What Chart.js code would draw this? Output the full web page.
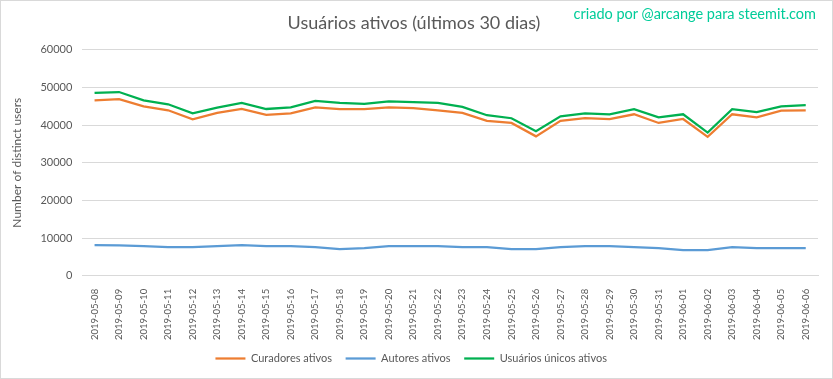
<!DOCTYPE html>
<html>
<head>
<meta charset="utf-8">
<script src="https://cdn.jsdelivr.net/npm/chart.js@4"></script>
<style>
  html, body { margin: 0; padding: 0; background: #fff; }
  #wrap { position: relative; width: 833px; height: 379px; }
  #frame { position: absolute; left: 0; top: 0; width: 831px; height: 377px; border: 1px solid #d9d9d9; }
  #credit { position: absolute; right: 17px; top: 5px; font: 14.5px Lato, sans-serif; color: #00cc99; }
</style>
</head>
<body>
<div id="wrap">
  <canvas id="usersChart" width="833" height="379"></canvas>
  <div id="frame"></div>
  <div id="credit">criado por @arcange para steemit.com</div>
</div>
<script>
const dates = [
  "2019-05-08", "2019-05-09", "2019-05-10", "2019-05-11", "2019-05-12", "2019-05-13",
  "2019-05-14", "2019-05-15", "2019-05-16", "2019-05-17", "2019-05-18", "2019-05-19",
  "2019-05-20", "2019-05-21", "2019-05-22", "2019-05-23", "2019-05-24", "2019-05-25",
  "2019-05-26", "2019-05-27", "2019-05-28", "2019-05-29", "2019-05-30", "2019-05-31",
  "2019-06-01", "2019-06-02", "2019-06-03", "2019-06-04", "2019-06-05", "2019-06-06"
];
const curadores = [
  46550, 46850, 44950, 43900, 41500, 43200, 44250, 42700, 43100, 44700,
  44200, 44200, 44700, 44450, 43900, 43200, 41100, 40550, 37000, 41100,
  41800, 41550, 42850, 40550, 41600, 36850, 42850, 42050, 43800, 43900
];
const autores = [
  8130, 8100, 7870, 7600, 7600, 7870, 8130, 7870, 7870, 7600,
  7070, 7340, 7870, 7870, 7870, 7600, 7600, 7070, 7070, 7600,
  7870, 7870, 7600, 7340, 6800, 6800, 7600, 7340, 7340, 7340
];
const usuariosUnicos = [
  48500, 48750, 46550, 45500, 43100, 44600, 45850, 44250, 44700, 46400,
  45850, 45600, 46300, 46100, 45850, 44800, 42600, 41800, 38350, 42300,
  43100, 42850, 44200, 42050, 42850, 38000, 44200, 43450, 44950, 45250
];
const yTicks = [0, 10000, 20000, 30000, 40000, 50000, 60000];

const textColor = "#595959";
const fontFamily = "Lato, sans-serif";

const data = {
  labels: dates,
  datasets: [
    { label: "Curadores ativos", data: curadores, borderColor: "#ed7d31", backgroundColor: "#ed7d31" },
    { label: "Autores ativos", data: autores, borderColor: "#5b9bd5", backgroundColor: "#5b9bd5" },
    { label: "Usuários únicos ativos", data: usuariosUnicos, borderColor: "#00b050", backgroundColor: "#00b050" }
  ].map(ds => Object.assign(ds, { borderWidth: 2.25, pointRadius: 0, fill: false, tension: 0 }))
};

const config = {
  type: "line",
  data: data,
  options: {
    responsive: false,
    animation: false,
    layout: { padding: { left: 10, right: 15, top: 4, bottom: 5 } },
    scales: {
      x: {
        offset: true,
        grid: { display: false },
        border: { color: "#d9d9d9" },
        ticks: {
          color: textColor,
          font: { family: fontFamily, size: 9.5 },
          minRotation: 90,
          maxRotation: 90,
          autoSkip: false,
          padding: 5
        }
      },
      y: {
        min: 0,
        max: 60000,
        afterBuildTicks: axis => { axis.ticks = yTicks.map(v => ({ value: v })); },
        grid: { color: "#d9d9d9", drawTicks: false },
        border: { display: false },
        ticks: {
          color: textColor,
          font: { family: fontFamily, size: 11 },
          padding: 10,
          callback: v => String(v)
        },
        title: {
          display: true,
          text: "Number of distinct users",
          color: textColor,
          font: { family: fontFamily, size: 12 },
          padding: { top: 0, bottom: 6 }
        }
      }
    },
    plugins: {
      title: {
        display: true,
        text: "Usuários ativos (últimos 30 dias)",
        color: textColor,
        font: { family: fontFamily, size: 18, weight: "normal" },
        padding: { top: 8, bottom: 16 }
      },
      legend: {
        position: "bottom",
        labels: {
          color: textColor,
          font: { family: fontFamily, size: 11 },
          usePointStyle: true,
          pointStyle: "line",
          pointStyleWidth: 30,
          boxHeight: 2,
          padding: 8,
          // a little extra room between legend items
          generateLabels: chart =>
            Chart.defaults.plugins.legend.labels.generateLabels(chart).map(item => {
              item.text = item.text + "  ";
              return item;
            })
        }
      },
      tooltip: { enabled: false }
    }
  }
};

const ctx = document.getElementById("usersChart").getContext("2d");
const usersChart = new Chart(ctx, config);
</script>
</body>
</html>
